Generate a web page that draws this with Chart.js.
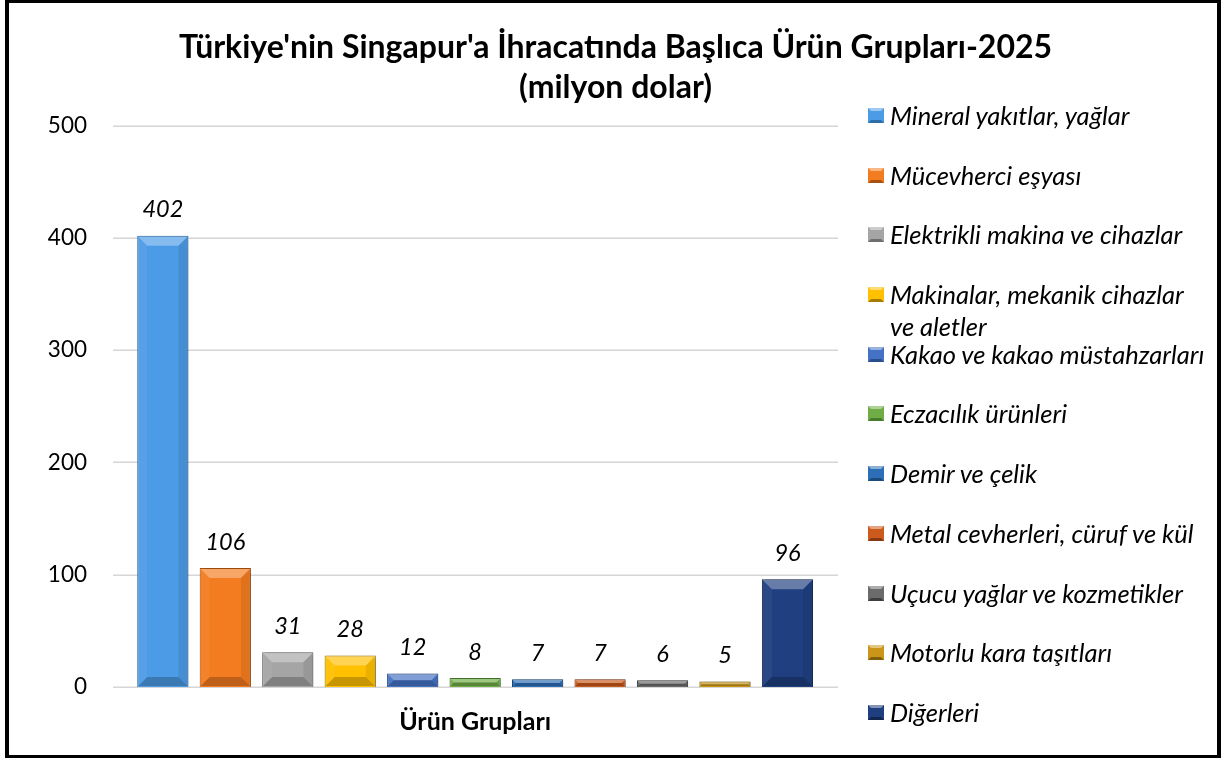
<!DOCTYPE html>
<html lang="tr">
<head>
<meta charset="utf-8">
<title>Türkiye'nin Singapur'a İhracatında Başlıca Ürün Grupları-2025</title>
<script src="https://cdn.jsdelivr.net/npm/chart.js@4.4.1/dist/chart.umd.min.js"></script>
<style>
  html, body { margin: 0; padding: 0; background: #fff; }
  #wrap { position: relative; width: 1223px; height: 758px; overflow: hidden; font-family: Lato, "Open Sans", sans-serif; }
  #chart { position: absolute; left: 0; top: 0; }
  #frame { position: absolute; left: 5px; top: 0; width: 1216px; height: 758px; box-sizing: border-box;
           border: 4px solid #000; border-top-width: 3px; border-bottom-width: 3px; pointer-events: none; }
  #legend { position: absolute; left: 868px; top: 99px; width: 348px; overflow: hidden; }
  .item { height: 59.7px; display: flex; align-items: flex-start; white-space: nowrap; }
  .sw { width: 16px; height: 15px; box-sizing: border-box; border: 3px solid; margin-top: 9px; margin-right: 6px; flex: none; }
  .txt { font-style: italic; font-size: 25.5px; line-height: 32px; color: #000; }
</style>
</head>
<body>
<div id="wrap">
  <canvas id="chart" width="1223" height="758"></canvas>
  <div id="legend"></div>
  <div id="frame"></div>
</div>
<script>
// Datos del gráfico
const categorias = [
  "Mineral yakıtlar, yağlar",
  "Mücevherci eşyası",
  "Elektrikli makina ve cihazlar",
  ["Makinalar, mekanik cihazlar", "ve aletler"],
  "Kakao ve kakao müstahzarları",
  "Eczacılık ürünleri",
  "Demir ve çelik",
  "Metal cevherleri, cüruf ve kül",
  "Uçucu yağlar ve kozmetikler",
  "Motorlu kara taşıtları",
  "Diğerleri"
];
const valores = [402, 106, 31, 28, 12, 8, 7, 7, 6, 5, 96];
const yTicks = [0, 100, 200, 300, 400, 500];

const colores = ["#4C9BE6", "#F47C20", "#A5A5A5", "#FFC000", "#4472C4", "#70AD47",
                 "#2D6FB6", "#CC5A1C", "#6B6B6B", "#C9961A", "#1F3F80"];
const bordes = ["#2E6DA8", "#A9520F", "#6E6E6E", "#A67C00", "#2A4D8C", "#477A2A",
                "#1B4A7E", "#853811", "#3E3E3E", "#7F5F0C", "#122650"];

// Líneas de la cuadrícula, sombra, biseles y etiquetas de valores
const decoPlugin = {
  id: "deco",
  beforeDatasetsDraw(chart) {
    const { ctx, chartArea } = chart;
    const y = chart.scales.y;
    ctx.save();
    ctx.strokeStyle = "#d6d6d6";
    ctx.lineWidth = 1.5;
    yTicks.forEach(v => {
      const py = Math.round(y.getPixelForValue(v)) + 0.25;
      ctx.beginPath();
      ctx.moveTo(chartArea.left - 18.6, py);
      ctx.lineTo(chartArea.right + 19.3, py);
      ctx.stroke();
    });
    ctx.restore();
    ctx.save();
    ctx.shadowColor = "rgba(0,0,0,0.35)";
    ctx.shadowBlur = 5;
    ctx.shadowOffsetX = 2;
    ctx.shadowOffsetY = 1;
  },
  afterDatasetsDraw(chart) {
    const ctx = chart.ctx;
    ctx.restore();
    const poly = (pts, fill) => {
      ctx.beginPath();
      ctx.moveTo(pts[0][0], pts[0][1]);
      pts.slice(1).forEach(p => ctx.lineTo(p[0], p[1]));
      ctx.closePath();
      ctx.fillStyle = fill;
      ctx.fill();
    };
    chart.getDatasetMeta(0).data.forEach((bar, i) => {
      const p = bar.getProps(["x", "y", "base", "width"], true);
      const l = p.x - p.width / 2 + 1, r = p.x + p.width / 2 - 1;
      const t = Math.min(p.y, p.base) + 1, b = Math.max(p.y, p.base) - 1;
      const d = Math.max(0, Math.min(9, (b - t) / 2, (r - l) / 2));
      ctx.save();
      poly([[l, t], [r, t], [r - d, t + d], [l + d, t + d]], "rgba(255,255,255,0.32)");
      poly([[l, b], [r, b], [r - d, b - d], [l + d, b - d]], "rgba(0,0,0,0.22)");
      poly([[l, t], [l + d, t + d], [l + d, b - d], [l, b]], "rgba(255,255,255,0.05)");
      poly([[r, t], [r - d, t + d], [r - d, b - d], [r, b]], "rgba(0,0,0,0.08)");
      // etiqueta del valor
      ctx.fillStyle = "#000";
      ctx.font = "italic 23.5px Lato";
      ctx.textAlign = "center";
      ctx.textBaseline = "middle";
      ctx.fillText(String(valores[i]), p.x, Math.min(p.y, p.base) - 26);
      ctx.restore();
    });
  }
};

const ctx = document.getElementById("chart").getContext("2d");
const chart = new Chart(ctx, {
  type: "bar",
  data: {
    labels: categorias,
    datasets: [{
      label: "milyon dolar",
      data: valores,
      backgroundColor: colores,
      borderColor: bordes,
      borderWidth: 1,
      barPercentage: 0.82,
      categoryPercentage: 1
    }]
  },
  options: {
    responsive: false,
    animation: false,
    devicePixelRatio: 1,
    layout: { padding: { left: 8, right: 0, top: 0, bottom: 0 } },
    plugins: {
      legend: { display: false },
      tooltip: { enabled: false },
      title: {
        display: true,
        text: ["Türkiye'nin Singapur'a İhracatında Başlıca Ürün Grupları-2025", "(milyon dolar)"],
        color: "#000",
        font: { family: "Lato", size: 32, weight: "bold", lineHeight: 1.25 },
        padding: { top: 28, bottom: 17.7 }
      }
    },
    scales: {
      x: {
        grid: { display: false, drawTicks: false },
        border: { display: false },
        ticks: { display: false },
        title: {
          display: true,
          text: "Ürün Grupları",
          color: "#000",
          font: { family: "Lato", size: 25, weight: "bold", lineHeight: 1.2 },
          padding: { top: 20, bottom: 21 }
        }
      },
      y: {
        min: 0,
        max: 500,
        grid: { display: false, drawTicks: false },
        border: { display: false },
        ticks: {
          stepSize: 100,
          padding: 44.6,
          color: "#000",
          font: { family: "Lato", size: 22.5 }
        },
        afterFit(scale) { scale.width = 123.6; }
      },
      yR: {
        position: "right",
        min: 0,
        max: 1,
        grid: { display: false, drawTicks: false },
        border: { display: false },
        ticks: { display: false },
        afterFit(scale) { scale.width = 404.3; }
      }
    }
  },
  plugins: [decoPlugin]
});

// Leyenda (HTML) a la derecha
const legend = document.getElementById("legend");
categorias.forEach((cat, i) => {
  const item = document.createElement("div");
  item.className = "item";
  const sw = document.createElement("span");
  sw.className = "sw";
  sw.style.background = colores[i];
  sw.style.borderColor = `${colores[i]}`;
  sw.style.borderTopColor = "rgba(255,255,255,0.45)";
  sw.style.borderBottomColor = bordes[i];
  const txt = document.createElement("span");
  txt.className = "txt";
  txt.innerHTML = (Array.isArray(cat) ? cat : [cat]).join("<br>");
  item.appendChild(sw);
  item.appendChild(txt);
  legend.appendChild(item);
});
</script>
</body>
</html>
